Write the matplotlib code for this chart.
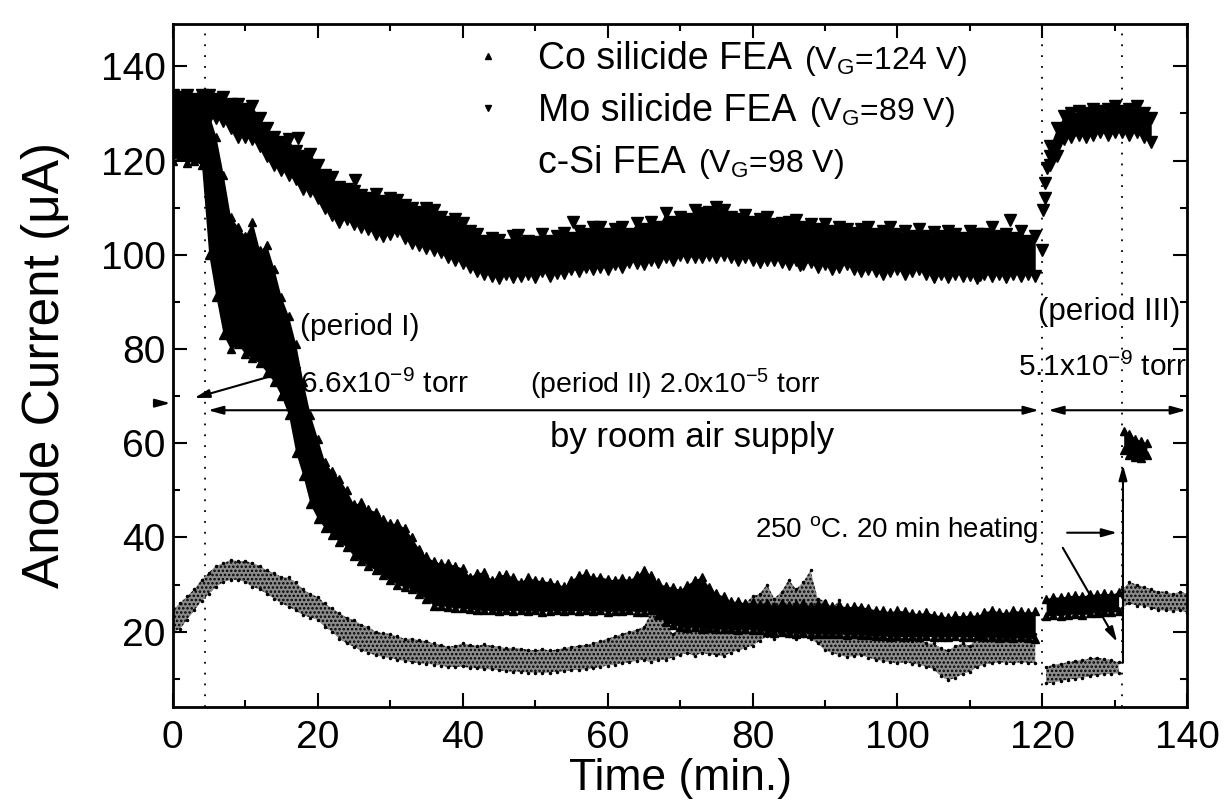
import matplotlib
matplotlib.use("Agg")
import matplotlib.pyplot as plt
from matplotlib.lines import Line2D
from matplotlib.ticker import MultipleLocator

plt.rcParams['font.family'] = ['Liberation Sans', 'DejaVu Sans']
plt.rcParams['mathtext.fontset'] = 'custom'
plt.rcParams['mathtext.rm'] = 'Liberation Sans'
plt.rcParams['mathtext.it'] = 'Liberation Sans:italic'
plt.rcParams['hatch.linewidth'] = 1.2

# ---- data (upper / lower edge of each scatter band) ----
# Co silicide FEA, periods I + II (one point per minute)
t_co = list(range(0, 120))
co_hi = [132, 133, 132, 133, 131, 130, 125, 117, 108, 106,
         104, 107, 101, 102, 97, 91, 87, 81, 73, 66,
         61, 56, 54, 52.5, 50, 47, 47.5, 46, 45.5, 44,
         43, 43, 42, 40, 37.5, 36, 35, 34.5, 34.5, 34,
         33.5, 31.7, 32.5, 32.7, 31, 32, 32.2, 31.5, 30.6, 31.5,
         31, 30.8, 30.6, 30.2, 29.6, 31, 32, 32.4, 31.5, 31.7,
         31.2, 31, 31.4, 31, 32, 33.1, 32, 30.5, 29.6, 29.5,
         28.9, 30, 31, 31.6, 29.5, 28.2, 27.5, 26.4, 26.5, 26,
         26.2, 25.8, 26, 25.5, 26, 25.6, 25.8, 26, 25.5, 25.8,
         26, 25.4, 25.6, 25.2, 25.5, 25.3, 25, 24.6, 24.5, 24.2,
         24.6, 24.3, 24, 23.8, 24.2, 23.6, 23.4, 23.1, 23.5, 23.3,
         23.6, 23.4, 24.2, 24.6, 24.2, 24, 24.5, 24.3, 24.1, 24.4]
co_lo = [120, 121, 119.5, 120, 119, 100, 91, 83, 80, 81,
         79, 78, 77, 75, 73, 70, 66, 58, 53, 47,
         44, 42, 40.5, 39, 38, 36, 35, 34, 33, 32,
         31, 30, 29.5, 29, 28, 27, 25.5, 25.5, 25.3, 25,
         25, 24.8, 24.6, 24.5, 24.5, 24.3, 24.6, 24.4, 24.5, 24.3,
         24.5, 24.2, 24.4, 24.5, 24.3, 24.5, 24.4, 24.5, 24.3, 24.5,
         24.2, 24.4, 24.3, 24.5, 24.2, 24.2, 24.5, 23.5, 22, 21.5,
         21, 20.8, 21, 20.6, 20.8, 20.5, 20.6, 20.5, 20.4, 20.6,
         20.4, 20.3, 20, 19.8, 20, 19.8, 19.6, 19.8, 19.5, 19.6,
         19.5, 19.4, 19.6, 19.3, 19.5, 19.2, 19.3, 19, 19.1, 18.9,
         19, 18.9, 19, 18.8, 19, 18.9, 18.8, 18.9, 19, 18.8,
         18.9, 19, 18.8, 18.9, 18.7, 18.8, 18.6, 18.8, 18.6, 18.5]
# Co silicide FEA, period III before / after the 250 C heating
t_co3 = [120.5, 121.5, 122.5, 123.5, 124.5, 125.5, 126.5, 127.5, 128.5, 129.5, 130.5]
co3_hi = [27.0, 27.4, 27.3, 27.6, 27.8, 27.5, 28.0, 27.9, 28.2, 28.0, 28.4]
co3_lo = [23.3, 23.5, 23.4, 23.6, 23.8, 23.5, 23.9, 24.0, 24.2, 24.1, 24.3]
t_co_heat = [131.2, 132.0, 132.8, 133.6, 134.4]
co_heat_hi = [62.5, 62.0, 61.0, 60.5, 60.0]
co_heat_lo = [58.5, 57.5, 57.0, 56.8, 57.5]

# Mo silicide FEA, periods I + II
t_mo = list(range(0, 120))
mo_hi = [134, 133.5, 134, 133, 134, 134, 133, 133.5, 132, 132,
         131, 131.5, 129, 127, 125, 124, 124.5, 122, 121, 121.5,
         119, 117, 116.5, 114.5, 114, 113.5, 112.7, 112, 113, 111.5,
         112, 111.7, 110.5, 110, 109, 110, 109.5, 108, 107, 107.5,
         106.8, 105, 104.5, 103, 103.5, 103.2, 102, 104, 102.5, 103,
         102.7, 104.5, 103, 104, 104.6, 103.5, 105, 104.5, 106, 105.9,
         104.5, 105.5, 106, 104.5, 106.8, 105.5, 107, 106, 108.9, 107,
         108, 107.5, 109.5, 108, 109, 110.2, 109.5, 108, 107.5, 108.5,
         107, 107.5, 108, 106.5, 106.8, 107, 107.4, 106, 106.5, 105.5,
         106.5, 105, 106, 105.5, 104.6, 105.5, 106, 104.5, 105, 106,
         104.5, 105, 104, 105.5, 104, 104.8, 104, 105, 104.5, 103.5,
         105, 104.5, 104.5, 106, 104, 104.5, 103.5, 105, 103, 104]
mo_lo = [125, 124, 125, 124.5, 125, 129, 129, 128.5, 127, 125,
         125, 124.5, 123, 121, 119, 118, 117, 116, 114, 113.5,
         112, 110, 108.5, 107, 107.5, 106.5, 106, 105.5, 104.5, 104,
         104.5, 105, 103.5, 102.5, 102, 101.5, 101, 100.5, 99.5, 99,
         98.3, 97.5, 96.5, 96, 95.5, 95.1, 96, 95.3, 95.5, 96,
         95.3, 96.5, 95.5, 96.2, 96.2, 97, 96.5, 97.5, 97, 97.5,
         97, 98, 97.5, 98.5, 98.3, 98, 99, 98.5, 99.6, 99,
         100, 99.5, 99.6, 99.5, 100, 99.5, 100, 99.5, 99, 99.5,
         99, 98.5, 98.9, 99, 98.5, 98, 98.9, 98, 98.5, 97.5,
         98, 97, 97.5, 98, 97, 96.5, 97, 96.5, 96, 96.5,
         97, 96, 96.5, 97, 96, 95.5, 96, 95.3, 96, 95.5,
         95.8, 95, 96, 95.5, 96, 95.3, 96, 95.5, 96, 95.5]
# isolated Mo points (outliers and the jump at the start of period III)
t_mo_pts = [17.3, 25.2, 47.7, 55.3, 73.2, 86.6, 105.0, 111.4, 115.5,
            119.9, 120.1, 120.3, 120.4, 120.6, 121.0]
mo_pts = [124.8, 115.9, 104.2, 107.0, 108.9, 97.9, 95.3, 95.7, 107.4,
          101.0, 109.5, 112.0, 115.2, 118.4, 121.0]
# Mo silicide FEA, period III
t_mo3 = [121, 122, 123, 124, 125, 126, 127, 128, 129, 130, 131, 132, 133, 134, 135]
mo3_hi = [123, 127, 129.5, 130, 130.5, 130, 131, 130.5, 131, 131.5, 130.5, 131, 131.5, 130, 129]
mo3_lo = [119, 121, 124.5, 125, 125.5, 125, 125.5, 126, 125.5, 126, 126, 125.5, 126, 125, 124]

# c-Si FEA, periods I + II
t_si = list(range(0, 120))
si_hi = [24.5, 26, 27.5, 29, 31, 32.5, 34, 34.5, 35.2, 35,
         35, 34.6, 34, 33, 32.5, 31.6, 31.5, 30.5, 29, 28,
         27.4, 26, 25, 24, 23, 22.5, 21.5, 21, 20, 19.7,
         19.5, 19, 18.5, 18.5, 18.2, 18, 17.5, 17.2, 16.8, 17,
         17.5, 17.2, 17, 17.3, 17, 16.8, 16.5, 16.6, 16.4, 16.2,
         16, 16.3, 16, 16.2, 16.5, 16.8, 17, 17.2, 17.5, 18,
         18.5, 19, 19.5, 20, 20.4, 21, 24, 27, 22, 19.5,
         21, 23.5, 22, 24, 21.5, 22.5, 24.5, 22, 23, 26,
         27.5, 28, 30, 27, 28.5, 31, 29, 30.5, 33, 27,
         26.5, 25, 26.7, 24, 22, 21, 20, 19, 19, 18.5,
         19, 18.5, 18, 18.5, 17.5, 17.5, 16.5, 16, 17, 17.5,
         17, 19, 19.5, 18.5, 19, 19.7, 19.2, 19.5, 19, 19.5]
si_lo = [20, 20.5, 22.5, 24.5, 26.5, 28, 29.5, 30.5, 31, 31,
         30.5, 29.5, 29, 28, 27, 26, 25.3, 24.5, 23.5, 23,
         22.5, 21, 20, 18.5, 17.5, 16.8, 16, 15.5, 15, 14.6,
         14.5, 14, 13.8, 13.5, 13.3, 13.2, 13, 12.8, 12.5, 12.5,
         12.6, 12.3, 12.2, 12, 12, 11.8, 11.6, 11.5, 11.5, 11.3,
         11.3, 11.2, 11.3, 11.5, 11.6, 11.8, 11.9, 12, 12.2, 12.5,
         12.8, 13, 13.3, 13.5, 13.8, 14, 13.5, 14, 14, 14.5,
         15, 15.5, 14.8, 15.5, 15.2, 15, 14.8, 15.5, 16, 16.5,
         17, 18, 19, 18.5, 19.5, 19, 18.5, 19, 18.5, 17.5,
         16, 15.5, 15, 14.6, 14.8, 15, 14.5, 14, 13.8, 13.5,
         13.3, 13.5, 13.2, 13, 12.5, 12, 10.5, 9.7, 10.2, 11,
         11.5, 12.5, 13, 13.3, 13.5, 13.4, 13.3, 13.5, 13.4, 13.3]
# c-Si FEA, period III before / after heating
t_si3 = [120.5, 121.5, 122.5, 123.5, 124.5, 125.5, 126.5, 127.5, 128.5, 129.5, 130.5]
si3_hi = [12.5, 13, 13.2, 13.5, 13.8, 14, 14.3, 14.5, 14.2, 14, 13.5]
si3_lo = [9, 9.2, 9.5, 9.8, 10, 10.2, 10.5, 10.8, 11, 11, 11.2]
t_si_heat = [131, 132, 133, 134, 135, 136, 137, 138, 139, 140]
si_heat_hi = [29, 30.5, 30, 29.5, 29, 28.5, 28.5, 28, 28.5, 28]
si_heat_lo = [25, 26, 25.5, 25.5, 25, 24.5, 24.5, 24.3, 24.5, 24]

# period boundaries (dotted lines) and pressure-arrow level
period_bounds = [4.5, 120, 131]
arrow_level = 67

fig = plt.figure(figsize=(12.27, 8.08), dpi=100)
ax = fig.add_axes([0.1406, 0.125, 0.8272, 0.8453])


def band(t, hi, lo, marker, ms, face, hatch=None):
    if hatch:
        ax.fill_between(t, lo, hi, facecolor='0.55', edgecolor='black',
                        hatch=hatch, linewidth=0, zorder=2)
    else:
        ax.fill_between(t, lo, hi, color=face, linewidth=0, zorder=3)
    for v in (hi, lo):
        ax.plot(t, v, ls='none', marker=marker, ms=ms, color=face,
                mec=face, zorder=3)


# c-Si (grey speckle)
band(t_si, si_hi, si_lo, '.', 3, 'black', hatch='....')
band(t_si3, si3_hi, si3_lo, '.', 3, 'black', hatch='....')
band(t_si_heat, si_heat_hi, si_heat_lo, '.', 3, 'black', hatch='....')
# Co silicide
band(t_co, co_hi, co_lo, '^', 6, 'black')
band(t_co3, co3_hi, co3_lo, '^', 6, 'black')
band(t_co_heat, co_heat_hi, co_heat_lo, '^', 6, 'black')
# Mo silicide
band(t_mo, mo_hi, mo_lo, 'v', 8, 'black')
band(t_mo3, mo3_hi, mo3_lo, 'v', 8, 'black')
ax.plot(t_mo_pts, mo_pts, ls='none', marker='v', ms=8, color='black', zorder=3)

for xb in period_bounds:
    ax.axvline(xb, color='black', lw=1.3, ls=(0, (1, 5)), zorder=1)

ax.set_xlim(0, 140)
ax.set_ylim(4, 149)
ax.xaxis.set_major_locator(MultipleLocator(20))
ax.xaxis.set_minor_locator(MultipleLocator(10))
ax.yaxis.set_minor_locator(MultipleLocator(10))
ax.set_yticks([20, 40, 60, 80, 100, 120, 140])
ax.tick_params(which='both', direction='in', top=True, right=True, width=1.5)
ax.tick_params(which='major', length=10, labelsize=28)
ax.tick_params(axis='x', which='major', pad=9)
ax.tick_params(axis='y', which='major', pad=5)
ax.tick_params(which='minor', length=5)
for s in ax.spines.values():
    s.set_linewidth(2)
ax.set_xlabel('Time (min.)', fontsize=32, labelpad=2)
ax.set_ylabel('Anode Current (\u03bcA)', fontsize=37, labelpad=22)

# legend
handles = [Line2D([], [], ls='none', marker='^', ms=5, color='black'),
           Line2D([], [], ls='none', marker='v', ms=5, color='black'),
           Line2D([], [], ls='none', marker='none', color='black')]
labels = ['Co silicide FEA', 'Mo silicide FEA', 'c-Si FEA']
leg = ax.legend(handles, labels, loc='upper left', bbox_to_anchor=(0.292, 0.975),
                frameon=False, fontsize=27, handlelength=1.0, handletextpad=0.85,
                labelspacing=0.42, borderpad=0, borderaxespad=0)

# annotations
arw = dict(arrowstyle='-|>,head_length=0.9,head_width=0.25', color='black',
           lw=1.5, shrinkA=0, shrinkB=0)
arw2 = dict(arrowstyle='<|-|>,head_length=0.9,head_width=0.25', color='black',
            lw=1.5, shrinkA=0, shrinkB=0)
ax.annotate('', xy=(period_bounds[0] + 0.4, arrow_level),
            xytext=(period_bounds[1] - 0.5, arrow_level), arrowprops=arw2)
ax.annotate('', xy=(period_bounds[1] + 0.8, arrow_level),
            xytext=(139.8, arrow_level), arrowprops=arw2)
ax.annotate('', xy=(3.0, 69.6), xytext=(17.6, 76), arrowprops=arw)
ax.annotate('', xy=(-0.3, 68.5), xytext=(-2.5, 68.5), arrowprops=arw,
            annotation_clip=False)
ax.annotate('', xy=(130.3, 41), xytext=(123.4, 41), arrowprops=arw)
ax.annotate('', xy=(130.3, 17.8), xytext=(122.8, 37.8), arrowprops=arw)
ax.annotate('', xy=(131.1, 55.4), xytext=(131.1, 13.4), arrowprops=arw)

fs = 21.5
ax.text(17.6, 84.7, '(period I)', fontsize=fs, va='center')
ax.text(17.6, 72.4, '6.6x10$^{-9}$ torr', fontsize=fs, va='center')
ax.text(49.3, 72.4, '(period II) 2.0x10$^{-5}$ torr', fontsize=20.5, va='center')
ax.text(71.7, 61.3, 'by room air supply', fontsize=25, va='center', ha='center')
ax.text(119.4, 87.9, '(period III)', fontsize=22.5, va='center')
ax.text(116.6, 76, '5.1x10$^{-9}$ torr', fontsize=fs, va='center')
ax.text(80.3, 41.6, '250 $^\\mathregular{o}$C. 20 min heating', fontsize=20, va='center')

# gate-voltage notes placed right after each legend entry
vg = ['(V$_\\mathregular{G}$=124 V)', '(V$_\\mathregular{G}$=89 V)', '(V$_\\mathregular{G}$=98 V)']
fig.canvas.draw()
W, H = fig.bbox.width, fig.bbox.height
for txt, s in zip(leg.get_texts(), vg):
    bb = txt.get_window_extent()
    fig.text((bb.x1 + 12) / W, (bb.y0 + bb.y1) / 2 / H - 0.002, s,
             fontsize=23, ha='left', va='center')

fig.savefig('out.png', dpi=100)
